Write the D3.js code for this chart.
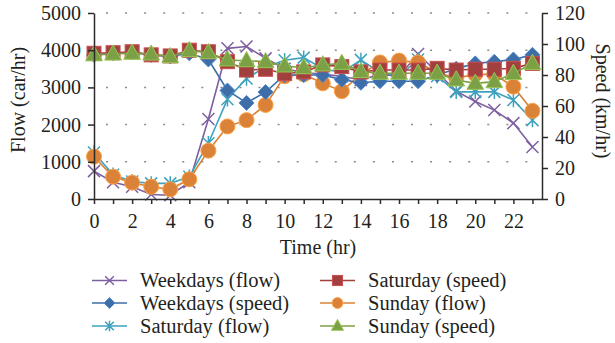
<!DOCTYPE html>
<html>
<head>
<meta charset="utf-8">
<script src="https://cdn.jsdelivr.net/npm/d3@7/dist/d3.min.js"></script>
<style>
  body { margin: 0; background: #fff; }
  svg text { font-family: "Liberation Serif", "DejaVu Serif", serif; fill: #231f20; }
</style>
</head>
<body>
<svg id="chart" width="615" height="343"></svg>
<script>
// data
const hours = [0, 1, 2, 3, 4, 5, 6, 7, 8, 9, 10, 11, 12, 13, 14, 15, 16, 17, 18, 19, 20, 21, 22, 23];
const hourLabels = ["0", "", "2", "", "4", "", "6", "", "8", "", "10", "", "12", "", "14", "", "16", "", "18", "", "20", "", "22", ""];
const flowTicks = [0, 1000, 2000, 3000, 4000, 5000];
const speedTicks = [0, 20, 40, 60, 80, 100, 120];

const weekdaysFlow = [750, 450, 330, 120, 100, 450, 2150, 4050, 4100, 3780, 3500, 3400, 3350, 3300, 3200, 3350, 3300, 3900, 3400, 2900, 2620, 2390, 2040, 1400];
const weekdaysSpeed = [93, 94, 94.5, 93, 92, 94, 90, 70, 62, 69, 80, 80, 80, 77, 75, 76, 76, 76, 80, 84, 87.5, 88.5, 90, 93];
const saturdayFlow = [1250, 650, 470, 420, 420, 600, 1500, 2680, 3240, 3550, 3730, 3800, 3500, 3400, 3740, 3400, 3300, 3750, 3300, 2880, 2880, 2880, 2660, 2120];
const saturdaySpeed = [94, 94.4, 95, 93, 92.3, 96, 95, 88.6, 83.2, 83.7, 81, 82, 86.5, 85.4, 82, 83.2, 83.2, 83.2, 84.3, 83.2, 83.7, 83.7, 84.3, 87.5];
const sundayFlow = [1140, 600, 440, 330, 260, 530, 1300, 1950, 2120, 2530, 3300, 3350, 3110, 2900, 3350, 3670, 3720, 3670, 3400, 3250, 3350, 3350, 3020, 2370];
const sundaySpeed = [93, 93.5, 94, 93.5, 91.8, 95.7, 94.4, 89.7, 89.2, 88.6, 85.8, 84.7, 86.5, 87.5, 82.2, 81.1, 81.1, 81.1, 81.1, 76.8, 74.6, 75.7, 81, 87.5];

const svg = d3.select('#chart');
const plot = { left: 94, right: 542, top: 13, bottom: 199 };

const x = d3.scaleLinear().domain([0, 23.5]).range([plot.left, plot.right]);
const yFlow = d3.scaleLinear().domain([0, 5000]).range([plot.bottom, plot.top]);
const ySpeed = d3.scaleLinear().domain([0, 120]).range([plot.bottom, plot.top]);

// series in drawing order: primary axis first, secondary on top (like Excel)
const series = [
  { name: 'Weekdays (flow)', values: weekdaysFlow, axis: yFlow, color: '#7d5fa0', marker: 'x' },
  { name: 'Saturday (flow)', values: saturdayFlow, axis: yFlow, color: '#3ea2bd', marker: 'star' },
  { name: 'Sunday (flow)', values: sundayFlow, axis: yFlow, color: '#da8238', marker: 'circle' },
  { name: 'Weekdays (speed)', values: weekdaysSpeed, axis: ySpeed, color: '#3d6ea8', marker: 'diamond' },
  { name: 'Saturday (speed)', values: saturdaySpeed, axis: ySpeed, color: '#a2403f', marker: 'square' },
  { name: 'Sunday (speed)', values: sundaySpeed, axis: ySpeed, color: '#7ca045', marker: 'triangle' }
];

// legend goes down the first column, then the second
const legendOrder = ['Weekdays (flow)', 'Weekdays (speed)', 'Saturday (flow)', 'Saturday (speed)', 'Sunday (flow)', 'Sunday (speed)'];

// gridlines (dotted)
const step = x(1) - x(0);
svg.append('g')
  .selectAll('line')
  .data(flowTicks.slice(1))
  .join('line')
  .attr('x1', plot.left)
  .attr('x2', plot.right)
  .attr('y1', d => yFlow(d))
  .attr('y2', d => yFlow(d))
  .attr('stroke', '#8a8a8a')
  .attr('stroke-width', 1.5)
  .attr('stroke-dasharray', `2 ${step - 2}`)
  .attr('stroke-dashoffset', -12);

function drawMarker(g, type, s, color) {
  const light = d3.color(color).brighter(0.6).formatHex();
  switch (type) {
    case 'x':
      g.append('path')
        .attr('d', `M${-s},${-s}L${s},${s}M${-s},${s}L${s},${-s}`)
        .attr('stroke', color).attr('stroke-width', 1.5).attr('fill', 'none');
      break;
    case 'star':
      g.append('path')
        .attr('d', `M${-s},${-s}L${s},${s}M${-s},${s}L${s},${-s}M0,${-s * 1.2}L0,${s * 1.2}`)
        .attr('stroke', color).attr('stroke-width', 1.5).attr('fill', 'none');
      break;
    case 'circle':
      g.append('circle').attr('r', s)
        .attr('fill', color).attr('stroke', light).attr('stroke-width', 1);
      break;
    case 'diamond':
      g.append('path')
        .attr('d', `M0,${-s}L${s},0L0,${s}L${-s},0Z`)
        .attr('fill', color).attr('stroke', light).attr('stroke-width', 1);
      break;
    case 'square':
      g.append('rect')
        .attr('x', -s).attr('y', -s).attr('width', 2 * s).attr('height', 2 * s)
        .attr('fill', color).attr('stroke', light).attr('stroke-width', 1);
      break;
    case 'triangle':
      g.append('path')
        .attr('d', `M0,${-s * 1.15}L${s * 1.05},${s * 0.75}L${-s * 1.05},${s * 0.75}Z`)
        .attr('fill', color).attr('stroke', light).attr('stroke-width', 1);
      break;
  }
}

const markerSize = { x: 6, star: 6, circle: 7.5, diamond: 7.5, square: 7, triangle: 8 };

// lines + markers
series.forEach(s => {
  const g = svg.append('g');
  const line = d3.line()
    .x((d, i) => x(hours[i]))
    .y(d => s.axis(d));

  g.append('path')
    .datum(s.values)
    .attr('d', line)
    .attr('fill', 'none')
    .attr('stroke', s.color)
    .attr('stroke-width', 1.6);

  s.values.forEach((v, i) => {
    const m = g.append('g').attr('transform', `translate(${x(hours[i])},${s.axis(v)})`);
    drawMarker(m, s.marker, markerSize[s.marker], s.color);
  });
});

// axes
function styleAxis(g) {
  g.selectAll('path, line').attr('stroke', '#2b2b2b').attr('stroke-width', 1.5);
  g.selectAll('text').attr('font-size', 20).attr('font-family', '"Liberation Serif", serif').attr('fill', '#231f20');
}

svg.append('g')
  .attr('transform', `translate(${plot.left},0)`)
  .call(d3.axisLeft(yFlow).tickValues(flowTicks).tickFormat(d3.format('d'))
    .tickSize(6).tickSizeOuter(0).tickPadding(7))
  .call(styleAxis);

svg.append('g')
  .attr('transform', `translate(${plot.right},0)`)
  .call(d3.axisRight(ySpeed).tickValues(speedTicks).tickFormat(d3.format('d'))
    .tickSize(6).tickSizeOuter(0).tickPadding(7))
  .call(styleAxis);

svg.append('g')
  .attr('transform', `translate(0,${plot.bottom})`)
  .call(d3.axisBottom(x).tickValues(hours).tickFormat((d, i) => hourLabels[i])
    .tickSize(5).tickSizeOuter(0).tickPadding(10))
  .call(styleAxis);

// axis titles
svg.append('text')
  .attr('x', 318).attr('y', 254)
  .attr('text-anchor', 'middle')
  .attr('font-size', 20)
  .text('Time (hr)');

svg.append('text')
  .attr('transform', `translate(25,100) rotate(-90)`)
  .attr('text-anchor', 'middle')
  .attr('font-size', 20)
  .text('Flow (car/hr)');

svg.append('text')
  .attr('transform', `translate(596,101) rotate(90)`)
  .attr('text-anchor', 'middle')
  .attr('font-size', 20)
  .text('Speed (km/hr)');

// legend: 2 columns x 3 rows
const legendCols = [92, 320];
const legendRows = [280.5, 303, 326];
legendOrder.forEach((name, i) => {
  const s = series.find(d => d.name === name);
  const x0 = legendCols[Math.floor(i / 3)];
  const y0 = legendRows[i % 3];
  const g = svg.append('g').attr('transform', `translate(${x0},${y0})`);
  g.append('line').attr('x1', 0).attr('x2', 35).attr('stroke', s.color).attr('stroke-width', 1.6);
  const m = g.append('g').attr('transform', 'translate(17.5,0)');
  drawMarker(m, s.marker, markerSize[s.marker] * 0.72, s.color);
  g.append('text')
    .attr('x', 48).attr('y', 6.5)
    .attr('font-size', 20.5)
    .text(name);
});
</script>
</body>
</html>
